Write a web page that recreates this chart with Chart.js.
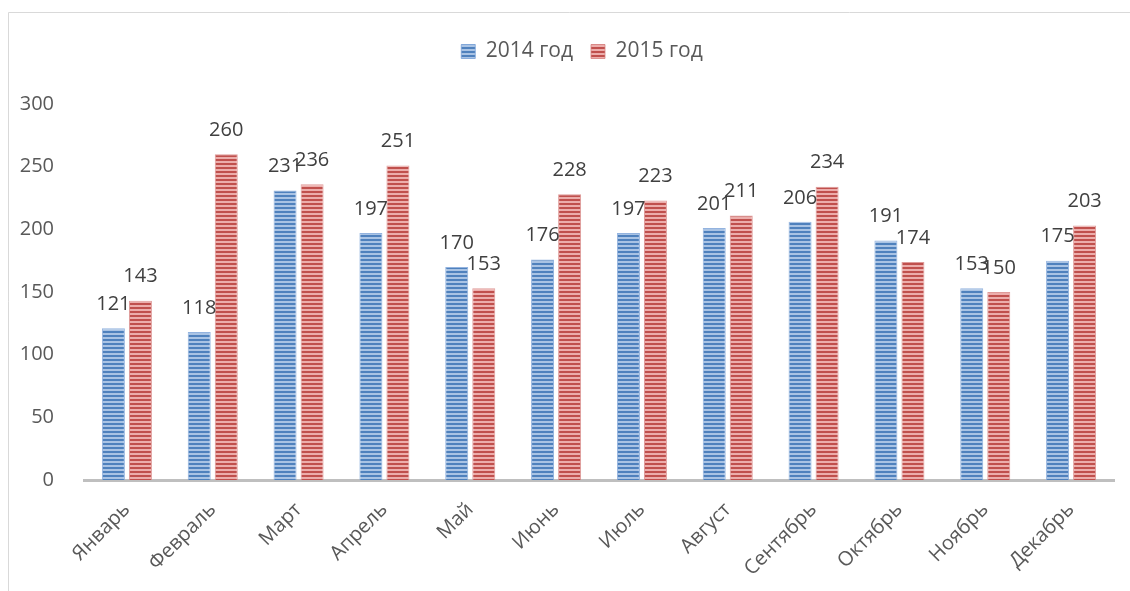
<!DOCTYPE html>
<html><head><meta charset="utf-8">
<script src="https://cdn.jsdelivr.net/npm/chart.js@4/dist/chart.umd.min.js"></script>
<style>html,body{margin:0;padding:0;background:#fff}#wrap{width:1130px;height:591px;position:relative}</style>
</head><body><div id="wrap"><canvas id="c" width="1130" height="591"></canvas></div>
<script>
const categories = ['Январь','Февраль','Март','Апрель','Май','Июнь','Июль','Август','Сентябрь','Октябрь','Ноябрь','Декабрь'];
const series2014 = [121,118,231,197,170,176,197,201,206,191,153,175];
const series2015 = [143,260,236,251,153,228,223,211,234,174,150,203];
const seriesNames = ['2014 год','2015 год'];
const yTicks = [0,50,100,150,200,250,300];

function stripe(dark, light){
  const p=document.createElement('canvas'); p.width=4; p.height=4;
  const g=p.getContext('2d');
  g.fillStyle=dark; g.fillRect(0,0,4,4);
  g.fillStyle=light; g.fillRect(0,1,4,2);
  return g.createPattern(p,'repeat');
}
const ctx=document.getElementById('c').getContext('2d');
const bluePat=stripe('#4f81bd','#a9c3e4');
const redPat=stripe('#c0504d','#ecadab');

const frame={id:'frame',beforeDraw(ch){const g=ch.ctx;g.save();g.fillStyle='#fff';g.fillRect(0,0,ch.width,ch.height);
  g.strokeStyle='#d9d9d9';g.lineWidth=1;g.beginPath();g.moveTo(8.5,591);g.lineTo(8.5,12.5);g.lineTo(1130,12.5);g.stroke();g.restore();}};
const labels={id:'labels',afterDatasetsDraw(ch){const g=ch.ctx;g.save();g.font='20px "Open Sans"';g.fillStyle='#404040';g.textAlign='center';g.textBaseline='middle';
  ch.data.datasets.forEach((ds,i)=>{ch.getDatasetMeta(i).data.forEach((b,j)=>{g.fillText(String(ds.data[j]),b.x,b.y-24);});});g.restore();}};
const legendSpace={id:'legendSpace',
  beforeLayout(ch){const lg=ch.legend;if(lg&&!lg._wrapped){const f=lg.fit.bind(lg);lg.fit=function(){f();this.height+=32;};lg._wrapped=true;}},
  afterLayout(ch){const lg=ch.legend;if(lg){lg.left+=25;lg.right+=25;}}};

new Chart(ctx,{type:'bar',
 data:{labels:categories,datasets:[
  {label:seriesNames[0],data:series2014,backgroundColor:bluePat,borderColor:'rgba(120,160,215,0.8)',borderWidth:1},
  {label:seriesNames[1],data:series2015,backgroundColor:redPat,borderColor:'rgba(215,130,128,0.8)',borderWidth:1}]},
 options:{responsive:false,animation:false,devicePixelRatio:1,
  categoryPercentage:0.63,barPercentage:0.85,
  layout:{padding:{top:23,left:0,right:16,bottom:0}},
  plugins:{tooltip:{enabled:false},
   legend:{position:'top',labels:{font:{family:'"Open Sans"',size:21},color:'#595959',boxWidth:14,boxHeight:14,padding:18}}},
  scales:{
   x:{grid:{display:false},border:{display:true,color:'#bfbfbf',width:3},
      ticks:{minRotation:45,maxRotation:45,font:{family:'"Open Sans"',size:20},color:'#595959',padding:10},
      afterFit(s){s.height=111;}},
   y:{min:0,max:300,grid:{display:false},border:{display:false},
      afterBuildTicks(s){s.ticks=yTicks.map(v=>({value:v}));},
      ticks:{font:{family:'"Open Sans"',size:20},color:'#595959',padding:22},
      afterFit(s){s.width=84;}}}},
 plugins:[frame,labels,legendSpace]});
</script></body></html>
